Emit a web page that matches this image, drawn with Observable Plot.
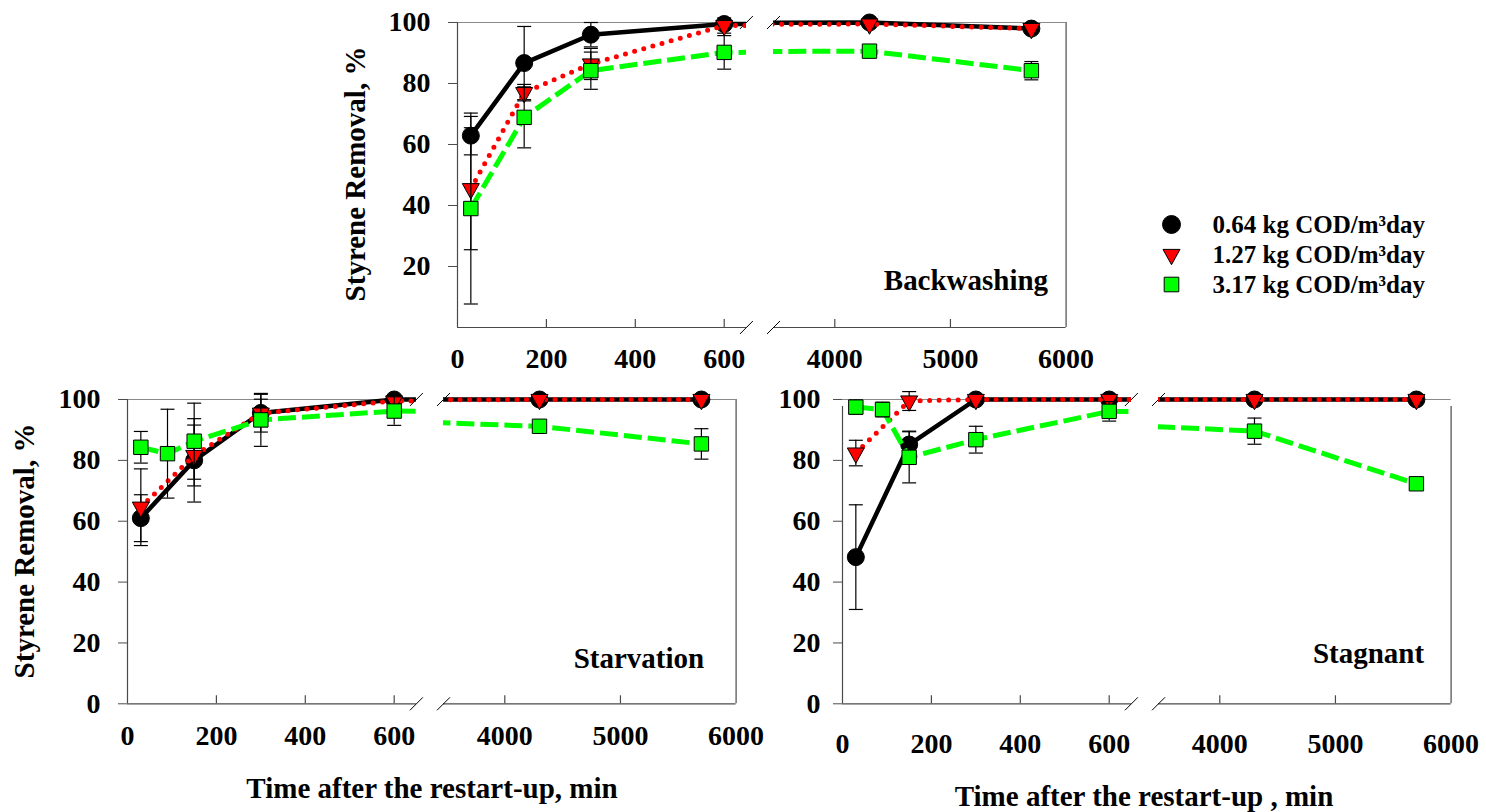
<!DOCTYPE html>
<html>
<head>
<meta charset="utf-8">
<script src="https://cdn.jsdelivr.net/npm/d3@7"></script>
<script src="https://cdn.jsdelivr.net/npm/@observablehq/plot@0.6"></script>
<style>
  body { margin: 0; background: #fff; }
  #chart { position: relative; width: 1486px; height: 812px; overflow: hidden; background: #fff;
           font-family: "Liberation Serif", "Times New Roman", serif; font-weight: bold; color: #000; }
  .part { position: absolute; }
  .part svg { max-width: none !important; }
  .title { position: absolute; font-size: 29px; line-height: 1; white-space: nowrap;
           transform: translate(-50%, -50%); }
  .title.vertical { transform: translate(-50%, -50%) rotate(-90deg); }
</style>
</head>
<body>
<div id="chart"></div>
<script>
// ---- Data: styrene removal (%) after restart-up, mean and ± error per loading rate ----
const loadingRates = ["0.64 kg COD/m³day", "1.27 kg COD/m³day", "3.17 kg COD/m³day"];
const sampleTimes = [30, 150, 300, 600, 4300, 5700];          // min
const sampleTimesExtra = [30, 90, 150, 300, 600, 4300, 5700]; // min, extra 90-min sample

// Backwashing
const backwash064 = [62.9, 86.7, 96.0, 99.5, 100, 98.0];
const backwash064Err = [6.3, 12.0, 4.0, 0, 0, 0];
const backwash127 = [45.5, 77.0, 86.4, 99.0, 99.5, 98.0];
const backwash127Err = [20.0, 2.7, 5.1, 2.5, 0, 0];
const backwash317 = [39.0, 68.9, 84.2, 90.2, 90.6, 84.2];
const backwash317Err = [31.3, 10.0, 6.1, 5.5, 1.5, 3.0];

// Starvation
const starvation064 = [61.0, 80.0, 95.6, 100, 100, 100];
const starvation064Err = [7.7, 13.7, 4.5, 0, 0, 0];
const starvation127 = [64.6, 81.6, 95.5, 99.5, 100, 100];
const starvation127Err = [12.6, 10.0, 6.2, 0, 0, 0];
const starvation317 = [84.3, 82.2, 86.3, 93.3, 96.2, 91.2, 85.4];
const starvation317Err = [5.2, 14.6, 12.5, 8.7, 4.7, 0, 5.0];

// Stagnant
const stagnant064 = [48.2, 85.2, 100, 100, 100, 100];
const stagnant064Err = [17.2, 4.4, 0, 0, 0, 0];
const stagnant127 = [82.4, 99.5, 100, 100, 100, 100];
const stagnant127Err = [4.2, 3.1, 0, 0, 0, 0];
const stagnant317 = [97.5, 96.7, 81.0, 86.8, 96.1, 89.6, 72.3];
const stagnant317Err = [2.3, 2.4, 8.4, 4.4, 3.2, 4.3, 1.5];

// Axis ticks
const yTicksFull = [0, 20, 40, 60, 80, 100];
const yTicksTop = [20, 40, 60, 80, 100];
const earlyTicks = [0, 200, 400, 600];
const lateTicks = [4000, 5000, 6000];

// ---- Styling ----
const FONT = '"Liberation Serif", "Times New Roman", serif';
const AXIS = "#4a4a4a";
const BORDER = "#8a8a8a";

// Custom marker shapes (size = r²π as passed by Plot)
const half = (size) => Math.sqrt(size / Math.PI);
const capSymbol = { draw(ctx, size) { const w = half(size); ctx.moveTo(-w, 0); ctx.lineTo(w, 0); } };
const breakSymbol = { draw(ctx, size) { const w = half(size); ctx.moveTo(-w, w); ctx.lineTo(w, -w); } };
const squareSymbol = { draw(ctx, size) { const w = half(size); ctx.rect(-w, -w, 2 * w, 2 * w); } };
const triangleDownSymbol = { draw(ctx, size) {
  const w = half(size);
  ctx.moveTo(-w, -0.6 * w); ctx.lineTo(w, -0.6 * w); ctx.lineTo(0, 1.2 * w); ctx.closePath();
} };

const seriesStyles = [
  { stroke: "#000000", width: 4.5, dash: null, cap: "round", symbol: "circle", r: 8.5 },
  { stroke: "#ff0000", width: 5, dash: "0 9.5", cap: "round", symbol: triangleDownSymbol, r: 8.5 },
  { stroke: "#00ff00", width: 5, dash: "18 6", cap: "butt", symbol: squareSymbol, r: 7.2 }
];

// Broken time axis: an early (0–650 min) and a late (3470–6000 min) segment
const EARLY = { domain: [0, 650], k: 0.4445, ticks: earlyTicks, inner: [200, 400, 600] };
const LATE = { domain: [3470, 6000], k: 0.11565, ticks: lateTicks, inner: [4000, 5000] };

const chart = document.getElementById("chart");

function place(node, left, top) {
  const div = document.createElement("div");
  div.className = "part";
  div.style.left = `${left}px`;
  div.style.top = `${top}px`;
  div.style.width = `${node.getAttribute("width")}px`;
  div.style.height = `${node.getAttribute("height")}px`;
  div.appendChild(node);
  chart.appendChild(div);
}

function title(text, cx, cy, vertical = false) {
  const div = document.createElement("div");
  div.className = vertical ? "title vertical" : "title";
  div.style.left = `${cx}px`;
  div.style.top = `${cy}px`;
  div.textContent = text;
  chart.appendChild(div);
}

function segment({ seg, frameLeft, frameTop, frameH, yTicks, yPad, xPad, series, label, stub }) {
  const isEarly = seg === EARLY;
  const mL = isEarly ? 110 : 14;
  const mR = isEarly ? 12 : 50;
  const mB = 70, mT = 2, topPad = 18;
  const frameW = (seg.domain[1] - seg.domain[0]) * seg.k;
  const width = mL + frameW + mR;
  const height = topPad + frameH + mB;
  const breakAt = isEarly ? seg.domain[1] : seg.domain[0];

  const marks = [
    // frame
    Plot.ruleY([0], { stroke: AXIS, strokeWidth: 1.2 }),
    Plot.ruleY([100], { stroke: BORDER, strokeWidth: 1.2 }),
    isEarly
      ? Plot.ruleX([seg.domain[0]], { y1: 0, y2: 100, stroke: AXIS, strokeWidth: 1.2, insetBottom: stub ? -7 : 0 })
      : Plot.ruleX([seg.domain[1]], { y1: 0, y2: 100, stroke: AXIS, strokeWidth: 1.2, insetBottom: stub ? -7 : 0 }),
    // axis-break slashes
    Plot.dot([0, 100], { x: () => breakAt, y: (d) => d, symbol: breakSymbol, r: 6.5, stroke: "#000", strokeWidth: 1, fill: "none" }),
    // inward x ticks
    Plot.ruleX(seg.inner, { y1: 0, y2: 0, insetTop: -8, stroke: AXIS, strokeWidth: 1.2 }),
    Plot.axisX(seg.ticks, { tickSize: 0, tickPadding: xPad, tickFormat: (d) => String(d), label: null, fontSize: 28 })
  ];
  if (isEarly) {
    marks.push(Plot.axisY(yTicks, { tickSize: 9, tickPadding: yPad, tickFormat: (d) => String(d), label: null, fontSize: 28, stroke: AXIS }));
  }

  series.forEach((s, k) => {
    const st = seriesStyles[k];
    const rows = s.t.map((t, i) => ({ t, v: s.v[i], e: s.e[i] }));
    const shown = rows.filter((d) => d.t >= seg.domain[0] && d.t <= seg.domain[1]);
    const bars = shown.filter((d) => d.e > 0);
    marks.push(
      Plot.line(rows, { x: "t", y: "v", stroke: st.stroke, strokeWidth: st.width, strokeDasharray: st.dash,
                        strokeLinecap: st.cap, strokeLinejoin: "round", clip: true }),
      Plot.ruleX(bars, { x: "t", y1: (d) => d.v - d.e, y2: (d) => d.v + d.e, stroke: "#000", strokeWidth: 1.2 }),
      Plot.dot(bars, { x: "t", y: (d) => d.v + d.e, symbol: capSymbol, r: 7, stroke: "#000", strokeWidth: 1.2, fill: "none" }),
      Plot.dot(bars, { x: "t", y: (d) => d.v - d.e, symbol: capSymbol, r: 7, stroke: "#000", strokeWidth: 1.2, fill: "none" }),
      Plot.dot(shown, { x: "t", y: "v", symbol: st.symbol, r: st.r, fill: st.stroke, stroke: "#000", strokeWidth: 1 })
    );
  });

  if (label) {
    marks.push(Plot.text([label.text], { text: (d) => d, frameAnchor: "bottom-right", textAnchor: "end",
      lineAnchor: "bottom", dx: label.dx, dy: label.dy, fontSize: 29 }));
  }

  const svg = Plot.plot({
    width, height,
    marginLeft: mL, marginRight: mR, marginTop: mT, marginBottom: mB,
    x: { domain: seg.domain, axis: null },
    y: { domain: [0, 100], range: [topPad + frameH, topPad], axis: null },
    style: { fontFamily: FONT, fontSize: "28px", fontWeight: "bold", background: "transparent",
             overflow: "visible", color: "#000", maxWidth: "none" },
    marks
  });
  place(svg, frameLeft - mL, frameTop - topPad);
}

function panel({ earlyLeft, lateLeft, frameTop, frameH, yTicks, yPad, xPad, series, label, stub }) {
  segment({ seg: EARLY, frameLeft: earlyLeft, frameTop, frameH, yTicks, yPad, xPad, series, stub });
  segment({ seg: LATE, frameLeft: lateLeft, frameTop, frameH, yTicks, yPad, xPad, series, label, stub });
}

// Backwashing (top)
panel({
  earlyLeft: 456.7, lateLeft: 772.6, frameTop: 21.7, frameH: 305,
  yTicks: yTicksTop, yPad: 18, xPad: 21,
  series: [
    { t: sampleTimes, v: backwash064, e: backwash064Err },
    { t: sampleTimes, v: backwash127, e: backwash127Err },
    { t: sampleTimes, v: backwash317, e: backwash317Err }
  ],
  label: { text: "Backwashing", dx: -18, dy: -37 }
});

// Starvation (bottom left)
panel({
  earlyLeft: 127.3, lateLeft: 443.1, frameTop: 399, frameH: 304.3,
  yTicks: yTicksFull, yPad: 18, xPad: 21,
  series: [
    { t: sampleTimes, v: starvation064, e: starvation064Err },
    { t: sampleTimes, v: starvation127, e: starvation127Err },
    { t: sampleTimesExtra, v: starvation317, e: starvation317Err }
  ],
  label: { text: "Starvation", dx: -32, dy: -36 }
});

// Stagnant (bottom right)
panel({
  earlyLeft: 841.7, lateLeft: 1158.1, frameTop: 399, frameH: 304.3,
  yTicks: yTicksFull, yPad: 13, xPad: 29.5, stub: true,
  series: [
    { t: sampleTimes, v: stagnant064, e: stagnant064Err },
    { t: sampleTimes, v: stagnant127, e: stagnant127Err },
    { t: sampleTimesExtra, v: stagnant317, e: stagnant317Err }
  ],
  label: { text: "Stagnant", dx: -27, dy: -40.5 }
});

// Legend
const legendSymbols = [
  { symbol: "circle", r: 9 },
  { symbol: triangleDownSymbol, r: 8.5 },
  { symbol: squareSymbol, r: 7.3 }
];
const legend = Plot.plot({
  width: 320, height: 104, margin: 0,
  y: { type: "point", domain: loadingRates, range: [20, 81], padding: 0, axis: null },
  style: { fontFamily: FONT, fontSize: "25px", fontWeight: "bold", background: "transparent",
           overflow: "visible", color: "#000", maxWidth: "none" },
  marks: [
    ...loadingRates.map((name, i) => Plot.dot([name], { y: (d) => d, frameAnchor: "left", dx: 22,
      symbol: legendSymbols[i].symbol, r: legendSymbols[i].r, fill: seriesStyles[i].stroke, stroke: "#000", strokeWidth: 1 })),
    Plot.text(loadingRates, { y: (d) => d, text: (d) => d, frameAnchor: "left", dx: 63, textAnchor: "start", lineAnchor: "middle" })
  ]
});
place(legend, 1149, 203);

// Axis titles
title("Styrene Removal, %", 355, 174, true);
title("Styrene Removal, %", 24, 551, true);
title("Time after the restart-up, min", 432, 787.5);
title("Time after the restart-up , min", 1144, 796);
</script>
</body>
</html>
